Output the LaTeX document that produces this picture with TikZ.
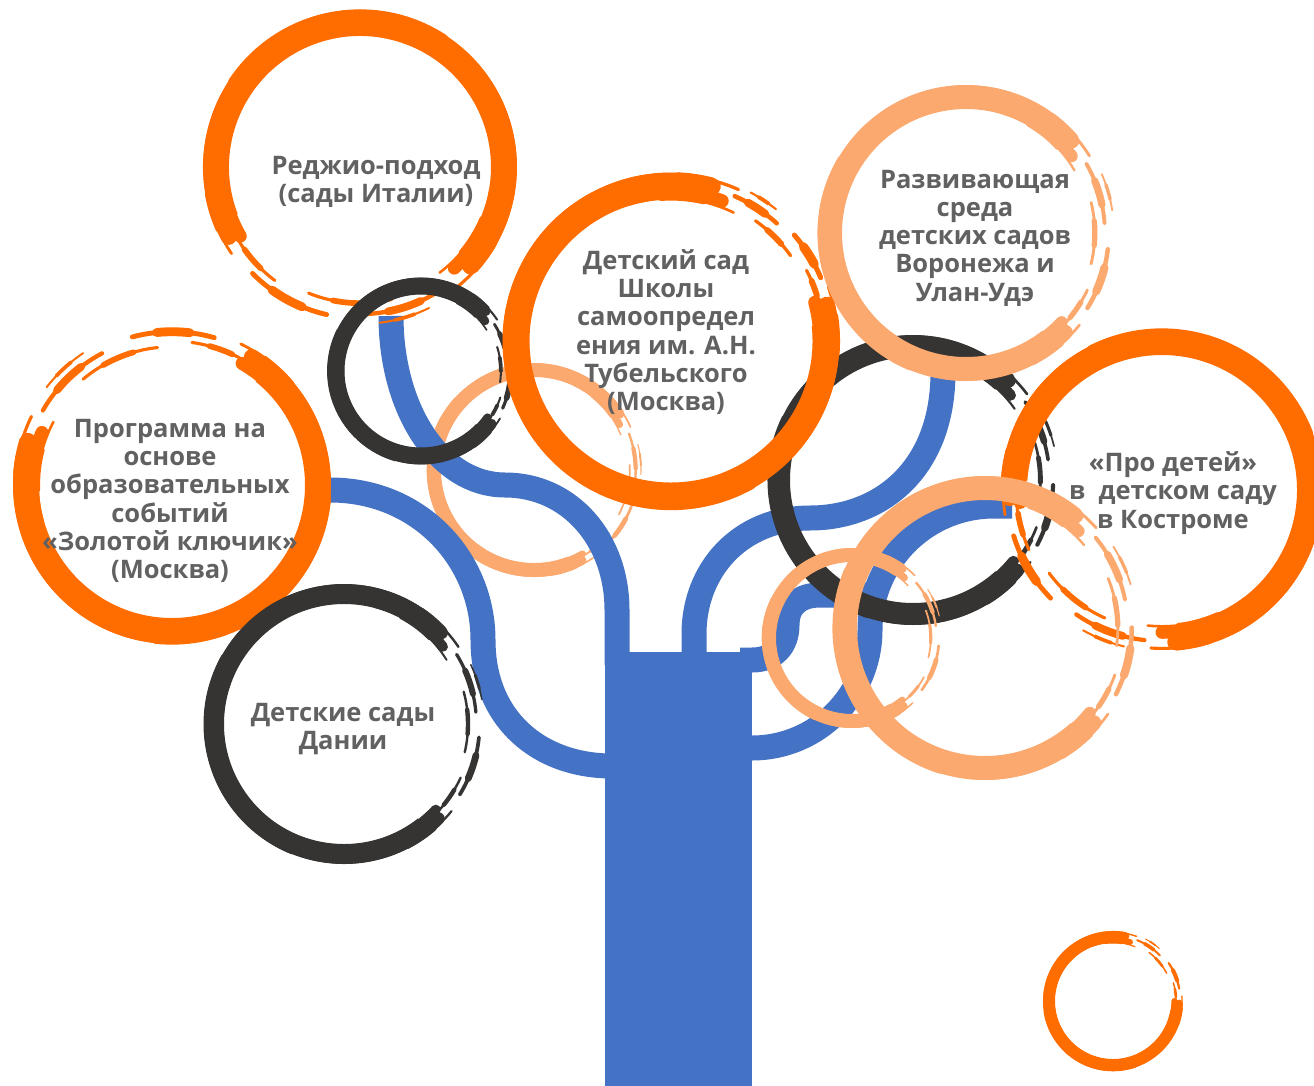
\documentclass[tikz,border=0pt]{standalone}
\usepackage{fontspec}
\setmainfont{Open Sans}
\definecolor{brOrange}{HTML}{FF6D00}
\definecolor{brPeach}{HTML}{FBA96F}
\definecolor{brDark}{HTML}{363432}
\definecolor{brBlue}{HTML}{4472C4}
\definecolor{brText}{HTML}{616161}
\newcommand{\bkarc}[6]{%
  \pgfmathsetmacro{\bkR}{#3}%
  \pgfmathsetmacro{\bkW}{#4}%
  \pgfmathsetmacro{\bkS}{#5}%
  \pgfmathsetmacro{\bkE}{#6}%
  \draw[line width=\bkW pt] (#1,#2) ++(\bkS:\bkR) arc[start angle=\bkS, end angle=\bkE, radius=\bkR];%
}
% tapered streak: thin over the whole length, thicker in the middle
\newcommand{\bkstreak}[6]{%
  \pgfmathsetmacro{\bkQs}{#5}\pgfmathsetmacro{\bkQe}{#6}%
  \pgfmathsetmacro{\bkQa}{\bkQs+0.3*(\bkQe-\bkQs)}\pgfmathsetmacro{\bkQb}{\bkQe-0.3*(\bkQe-\bkQs)}%
  \bkarc{#1}{#2}{#3}{0.55*(#4)}{\bkQs}{\bkQe}%
  \bkarc{#1}{#2}{#3}{#4}{\bkQa}{\bkQb}%
}
% #1 cx, #2 cy, #3 radius, #4 width, #5 colour, #6 start, #7 end (screen clockwise degrees)
\newcommand{\brushring}[7]{%
  \begin{scope}[draw=#5]
  \pgfmathsetmacro{\bkA}{#6}\pgfmathsetmacro{\bkB}{#7}%
  \pgfmathsetmacro{\bkG}{\bkA+360-\bkB}%
  \pgfmathsetmacro{\bkr}{#3}\pgfmathsetmacro{\bkw}{#4}%
  \begin{scope}[line cap=butt]
    \bkarc{#1}{#2}{\bkr}{\bkw}{\bkA+9}{\bkB-9}
  \end{scope}
  \begin{scope}[line cap=round]
    \bkarc{#1}{#2}{\bkr+0.18*\bkw}{0.62*\bkw}{\bkA+2}{\bkB-3}
    \bkarc{#1}{#2}{\bkr-0.22*\bkw}{0.5*\bkw}{\bkA}{\bkB+2}
    \bkarc{#1}{#2}{\bkr+0.3*\bkw}{0.45*\bkw}{\bkA+0.25*(\bkB-\bkA)}{\bkA+0.6*(\bkB-\bkA)}
    \bkstreak{#1}{#2}{\bkr+0.42*\bkw}{0.2*\bkw}{\bkA-4}{\bkA+30}
    \bkstreak{#1}{#2}{\bkr-0.45*\bkw}{0.18*\bkw}{\bkB-35}{\bkB+8}
    \bkstreak{#1}{#2}{\bkr+0.4*\bkw}{0.22*\bkw}{\bkB-25}{\bkB+6}
    \bkstreak{#1}{#2}{\bkr+0.12*\bkw}{0.3*\bkw}{\bkB+0.1*\bkG}{\bkB+0.42*\bkG}
    \bkstreak{#1}{#2}{\bkr-0.3*\bkw}{0.22*\bkw}{\bkB+0.3*\bkG}{\bkB+0.64*\bkG}
    \bkstreak{#1}{#2}{\bkr+0.28*\bkw}{0.34*\bkw}{\bkB+0.55*\bkG}{\bkB+0.86*\bkG}
    \bkstreak{#1}{#2}{\bkr-0.08*\bkw}{0.22*\bkw}{\bkB+0.78*\bkG}{\bkA+362}
    \bkstreak{#1}{#2}{\bkr+0.5*\bkw}{0.14*\bkw}{\bkB+0.18*\bkG}{\bkB+0.36*\bkG}
  \end{scope}
  \end{scope}}
\tikzset{
  branch/.style={draw=brBlue, line width=25pt, line cap=butt},
  lbl/.style={font=\fontsize{25.5}{28.3}\selectfont\bfseries, text=brText, align=center, inner sep=0pt}
}
\begin{document}
\begin{tikzpicture}[x=1pt, y=-1pt]
\useasboundingbox (0,0) rectangle (1314,1086);
\clip (0,0) rectangle (1314,1086);
\fill[white] (0,0) rectangle (1314,1086);

% small peach ring under the branches
\brushring{534}{470}{100}{14}{brPeach}{60}{330}

% tree
\fill[brBlue] (605,652) rectangle (752,1086);
\draw[branch] (391,316) .. controls (391,410) and (440,485) .. (505,485)
  .. controls (570,485) and (617,540) .. (617,610) -- (617,665);
\draw[branch] (330,490) .. controls (420,490) and (483,560) .. (483,640)
  .. controls (483,720) and (540,766) .. (612,766);
\draw[branch] (943,372) .. controls (943,470) and (880,518) .. (810,518)
  .. controls (740,518) and (694,570) .. (694,634) -- (694,665);
\draw[branch] (1012,506) -- (994,506) arc[start angle=-90, end angle=-180, radius=124]
  arc[start angle=0, end angle=90, radius=118] -- (740,748);
\draw[branch] (740,660) -- (752,660) .. controls (775,660) and (787,645) .. (787,625)
  .. controls (787,605) and (800,595) .. (820,595) -- (876,595);

% rings
\brushring{360}{167}{144}{26}{brOrange}{150}{405}
\brushring{421}{371}{85}{17}{brDark}{35}{320}
\brushring{172}{485}{146}{26}{brOrange}{-60}{200}
\brushring{344}{724}{130}{20}{brDark}{43}{320}
\brushring{913}{480}{134}{22}{brDark}{39}{317}
\brushring{671}{341}{155}{27}{brOrange}{-15}{288}
\brushring{966}{233}{136}{24}{brPeach}{43}{322}
\brushring{1162}{490}{148}{26}{brOrange}{175}{448}
\brushring{852}{638}{83}{14}{brPeach}{51}{309}
\brushring{985}{628}{140}{24}{brPeach}{39}{312}
\brushring{1113}{1001}{64}{12}{brOrange}{0}{284}

% texts
\node[lbl] (reggio) at (376,182) {Реджио-подход\\(сады Италии)};
\node[lbl] (school) at (666,332) {Детский сад\\Школы\\самоопредел\\ения им. А.Н.\\Тубельского\\(Москва)};
\node[lbl] (voronezh) at (975,238) {Развивающая\\среда\\детских садов\\Воронежа и\\Улан-Удэ};
\node[lbl] (program) at (170,501) {Программа на\\основе\\образовательных\\событий\\«Золотой ключик»\\(Москва)};
\node[lbl] (denmark) at (343,729) {Детские сады\\Дании};
\node[lbl] (kostroma) at (1173,493) {«Про детей»\\в \ детском саду\\в Костроме};
\end{tikzpicture}
\end{document}
